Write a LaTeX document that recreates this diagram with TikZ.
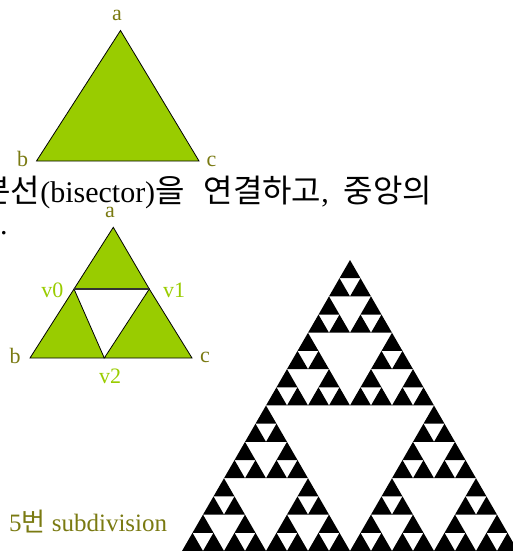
\documentclass[tikz,border=0pt]{standalone}
\usepackage{fontspec}
\setmainfont{Liberation Serif}
\newfontfamily\kr{Noto Sans CJK KR}
\definecolor{leaf}{HTML}{99CC00}
\definecolor{olivetext}{HTML}{7A7A12}
\newcommand\hg[2]{{\kr\fontsize{#1}{#1}\selectfont #2}}

\newcommand\sierpinski[4]{%
  \ifnum#1=0
    \fill[gasket] (#2,#3) -- ++(-#4/2,0.866*#4) -- ++(#4,0) -- cycle;
  \else
    \begingroup
      \pgfmathtruncatemacro\sdepth{#1-1}%
      \pgfmathsetmacro\shalf{#4/2}%
      \pgfmathsetmacro\sleft{#2-#4/4}%
      \pgfmathsetmacro\sright{#2+#4/4}%
      \pgfmathsetmacro\slow{#3+0.433*#4}%
      \edef\snext{%
        \noexpand\sierpinski{\sdepth}{#2}{#3}{\shalf}%
        \noexpand\sierpinski{\sdepth}{\sleft}{\slow}{\shalf}%
        \noexpand\sierpinski{\sdepth}{\sright}{\slow}{\shalf}}%
      \snext
    \endgroup
  \fi}

\begin{document}
\begin{tikzpicture}[
        x=1pt, y=-1pt,
        tri/.style={
            draw=black,
            fill=leaf,
            line width=0.8pt,
            line join=miter
        },
        gasket/.style={fill=black},
        corner/.style={text=olivetext, font=\fontsize{22}{22}\selectfont},
        midpt/.style={text=leaf, font=\fontsize{22}{22}\selectfont},
        every node/.style={inner sep=0pt}
    ]
    \useasboundingbox (0,0) rectangle (512,552);

    \coordinate (a1) at (120.5,30.5);
    \coordinate (b1) at (36.5,161);
    \coordinate (c1) at (199,161);

    \filldraw[tri] (a1) -- (b1) -- (c1) -- cycle;

    \node[corner] (la1) at (117,15) {a};
    \node[corner] (lb1) at (22.5,159) {b};
    \node[corner] (lc1) at (211.5,161) {c};

    \node[anchor=base west, font=\fontsize{30}{32}\selectfont] (step)
        at (-18.8,202) {\hg{32}{분선}(bisector)\hg{32}{을}\hspace{19pt}\hg{32}{연결하고},\hspace{15pt}\hg{32}{중앙의}};
    \node[anchor=base west, font=\fontsize{30}{32}\selectfont] (stepend)
        at (0,234) {.};

    \coordinate (a2) at (113.3,227.3);
    \coordinate (b2) at (30,358);
    \coordinate (c2) at (192,358);
    \coordinate (v0) at (74,289);
    \coordinate (v1) at (149.3,289);
    \coordinate (v2) at (104.3,358);

    \filldraw[tri] (a2) -- (v0) -- (v1) -- cycle;
    \filldraw[tri] (v0) -- (b2) -- (v2) -- cycle;
    \filldraw[tri] (v1) -- (v2) -- (c2) -- cycle;
    \draw[line width=1.6pt, black!80] (v0) -- (v1);

    \node[corner] (la2) at (110,212) {a};
    \node[corner] (lb2) at (15,356) {b};
    \node[corner] (lc2) at (205,357) {c};
    \node[midpt] (lv0) at (52.5,290) {v0};
    \node[midpt] (lv1) at (174,290) {v1};
    \node[midpt] (lv2) at (110,376) {v2};

    \sierpinski{4}{350}{260}{336}

    \node[anchor=base west, text=olivetext, font=\fontsize{25}{25}\selectfont] (depth)
        at (9,531) {5\hg{26}{번} subdivision};

\end{tikzpicture}
\end{document}
